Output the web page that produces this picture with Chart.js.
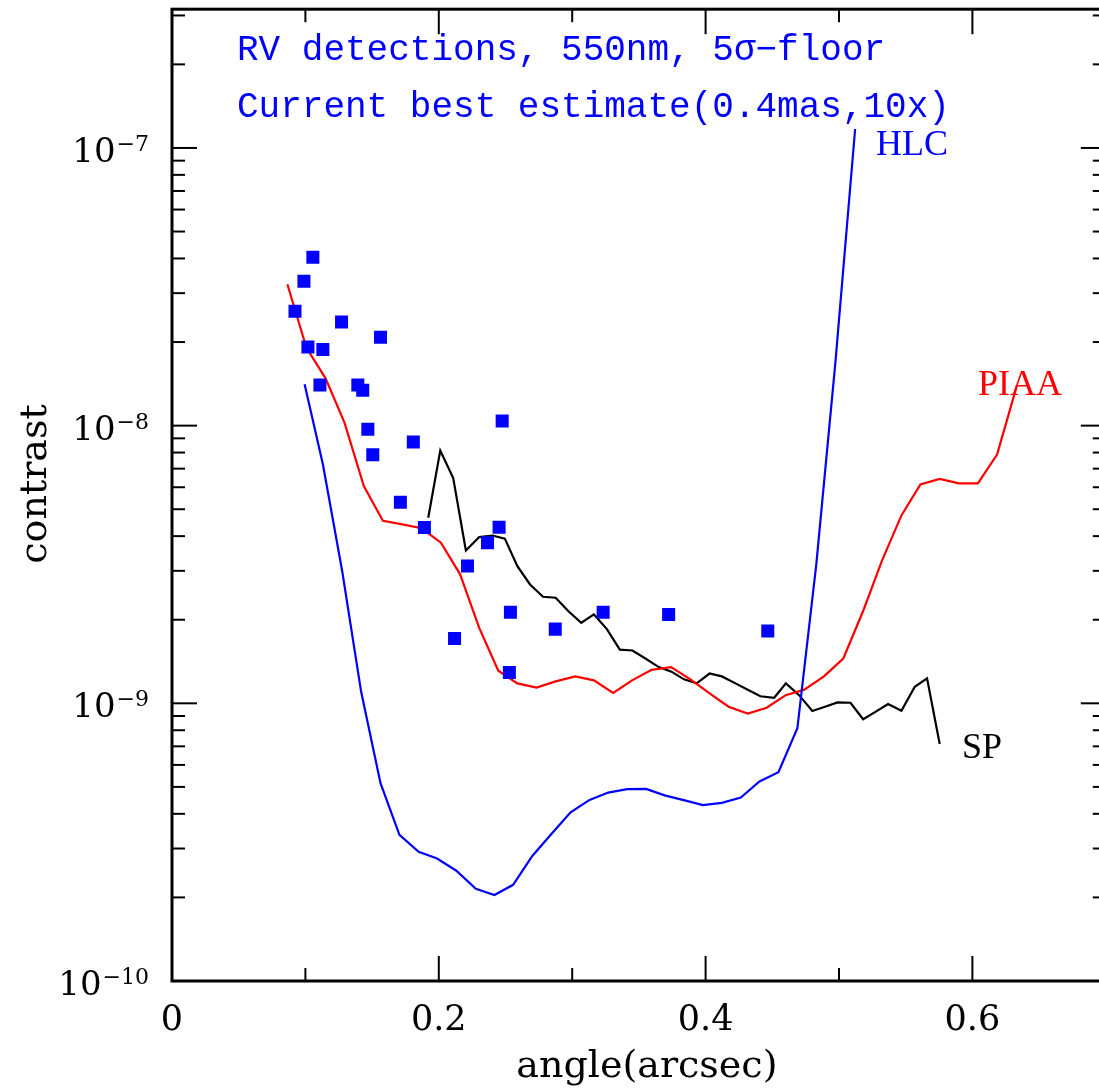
<!DOCTYPE html>
<html>
<head>
<meta charset="utf-8">
<script src="https://cdn.jsdelivr.net/npm/chart.js@4.4.1/dist/chart.umd.min.js"></script>
<style>
html,body{margin:0;padding:0;overflow:hidden;background:#fff;}
#wrap{width:1115px;height:1092px;position:relative;}
canvas{display:block;}
</style>
</head>
<body>
<div id="wrap"><canvas id="c" width="1115" height="1092"></canvas></div>
<script>
// ---- data (angle in arcsec, contrast) ----
const rvX = [0.0922,0.0989,0.1056,0.1019,0.1109,0.1131,0.1271,0.1393,0.1430,0.1468,0.1505,0.1563,0.1712,0.1809,0.1892,0.2118,0.2215,0.2365,0.2452,0.2475,0.2537,0.2529,0.2873,0.3232,0.3723,0.4466];
const rvY = [2.58e-8,3.31e-8,4.04e-8,1.92e-8,1.40e-8,1.88e-8,2.36e-8,1.40e-8,1.34e-8,9.70e-9,7.85e-9,2.08e-8,5.30e-9,8.73e-9,4.30e-9,1.71e-9,3.12e-9,3.79e-9,4.31e-9,1.04e-8,2.13e-9,1.29e-9,1.85e-9,2.13e-9,2.09e-9,1.82e-9];

const hlcX = [0.0994,0.1131,0.1276,0.1418,0.1563,0.1705,0.1849,0.1987,0.2129,0.2278,0.2417,0.2557,0.2701,0.2839,0.2988,0.3130,0.3270,0.3412,0.3554,0.3693,0.3836,0.3980,0.4122,0.4264,0.4404,0.4546,0.4688,0.4830,0.4972,0.5121];
const hlcY = [1.41e-8,7.26e-9,2.99e-9,1.10e-9,5.16e-10,3.36e-10,2.92e-10,2.76e-10,2.50e-10,2.15e-10,2.04e-10,2.22e-10,2.82e-10,3.36e-10,4.05e-10,4.49e-10,4.77e-10,4.91e-10,4.92e-10,4.66e-10,4.48e-10,4.30e-10,4.38e-10,4.58e-10,5.23e-10,5.65e-10,8.13e-10,3.17e-9,1.67e-8,1.17e-7];

const piaaX = [0.0865,0.1007,0.1151,0.1293,0.1438,0.1581,0.1727,0.1871,0.2016,0.2159,0.2303,0.2446,0.2589,0.2733,0.2876,0.3023,0.3163,0.3307,0.3449,0.3595,0.3741,0.3886,0.4030,0.4172,0.4316,0.4458,0.4600,0.4740,0.4887,0.5032,0.5181,0.5323,0.5468,0.5610,0.5755,0.5899,0.6041,0.6185,0.6333];
const piaaY = [3.23e-8,1.91e-8,1.48e-8,1.025e-8,6.06e-9,4.54e-9,4.41e-9,4.27e-9,3.79e-9,2.92e-9,1.87e-9,1.31e-9,1.18e-9,1.14e-9,1.20e-9,1.25e-9,1.21e-9,1.09e-9,1.21e-9,1.32e-9,1.35e-9,1.22e-9,1.086e-9,9.72e-10,9.18e-10,9.64e-10,1.07e-9,1.12e-9,1.25e-9,1.45e-9,2.15e-9,3.27e-9,4.75e-9,6.14e-9,6.43e-9,6.20e-9,6.20e-9,7.87e-9,1.39e-8];

const spX = [0.1921,0.2011,0.2108,0.2203,0.2303,0.2402,0.2495,0.2589,0.2684,0.2781,0.2876,0.2970,0.3068,0.3163,0.3260,0.3357,0.3452,0.3549,0.3649,0.3744,0.3838,0.3933,0.4030,0.4122,0.4224,0.4316,0.4411,0.4514,0.4602,0.4701,0.4800,0.4895,0.4989,0.5086,0.5181,0.5276,0.5368,0.5468,0.5568,0.5660,0.5755];
const spY = [4.66e-9,8.13e-9,6.47e-9,3.55e-9,3.97e-9,4.02e-9,3.92e-9,3.12e-9,2.68e-9,2.42e-9,2.40e-9,2.15e-9,1.95e-9,2.09e-9,1.85e-9,1.56e-9,1.55e-9,1.45e-9,1.35e-9,1.30e-9,1.22e-9,1.18e-9,1.28e-9,1.25e-9,1.18e-9,1.12e-9,1.06e-9,1.047e-9,1.18e-9,1.07e-9,9.38e-10,9.72e-10,1.008e-9,1.005e-9,8.76e-10,9.33e-10,9.94e-10,9.40e-10,1.147e-9,1.23e-9,7.14e-10];

// ---- axes / text ----
const xMajorTicks = [0, 0.2, 0.4, 0.6];
const xTickLabels = ['0', '0.2', '0.4', '0.6'];
const xMinorTicks = [0.1, 0.3, 0.5];
const yDecades = [-10, -9, -8, -7];
const yExpLabels = ['\u221210', '\u22129', '\u22128', '\u22127'];
const xTitle = 'angle(arcsec)';
const yTitle = 'contrast';
const noteLines = ['RV detections, 550nm, 5\u03c3\u2212floor', 'Current best estimate(0.4mas,10x)'];
const seriesLabels = [
  {text: 'HLC', color: '#0000ff'},
  {text: 'PIAA', color: '#ff0000'},
  {text: 'SP', color: '#000000'}
];

const pts = (xs, ys) => xs.map((x, i) => ({x: x, y: ys[i]}));

const overlay = {
  id: 'overlay',
  afterDraw(chart) {
    const ctx = chart.ctx;
    const xs = chart.scales.x, ys = chart.scales.y;
    const a = chart.chartArea;
    ctx.save();
    // frame
    ctx.strokeStyle = '#000';
    ctx.lineWidth = 3;
    ctx.strokeRect(a.left, a.top, a.right - a.left, a.bottom - a.top);
    // ticks
    ctx.lineWidth = 2;
    const tick = (x1, y1, x2, y2) => { ctx.beginPath(); ctx.moveTo(x1, y1); ctx.lineTo(x2, y2); ctx.stroke(); };
    xMajorTicks.forEach(v => { const p = xs.getPixelForValue(v); tick(p, a.bottom, p, a.bottom - 25); tick(p, a.top, p, a.top + 25); });
    xMinorTicks.forEach(v => { const p = xs.getPixelForValue(v); tick(p, a.bottom, p, a.bottom - 13); tick(p, a.top, p, a.top + 13); });
    yDecades.forEach(d => {
      const p = ys.getPixelForValue(Math.pow(10, d));
      tick(a.left, p, a.left + 25, p); tick(a.right, p, a.right - 25, p);
      for (let m = 2; m <= 9; m++) {
        const v = m * Math.pow(10, d);
        if (v > ys.max) break;
        const q = ys.getPixelForValue(v);
        tick(a.left, q, a.left + 13, q); tick(a.right, q, a.right - 13, q);
      }
    });
    // x tick labels
    ctx.fillStyle = '#000';
    ctx.font = '35px "DejaVu Serif"';
    ctx.textAlign = 'center';
    ctx.textBaseline = 'alphabetic';
    xMajorTicks.forEach((v, i) => ctx.fillText(xTickLabels[i], xs.getPixelForValue(v), 1030));
    // y tick labels 10^n
    yDecades.forEach((d, i) => {
      const p = ys.getPixelForValue(Math.pow(10, d));
      ctx.font = '22px "DejaVu Serif"';
      ctx.textAlign = 'right';
      ctx.textBaseline = 'alphabetic';
      const ew = ctx.measureText(yExpLabels[i]).width;
      ctx.fillText(yExpLabels[i], 149, p + 3);
      ctx.font = '34px "DejaVu Serif"';
      ctx.fillText('10', 149 - ew - 1, p + 14);
    });
    // axis titles
    ctx.font = '38px "DejaVu Serif"';
    ctx.textAlign = 'center';
    ctx.fillText(xTitle, (a.left + a.right) / 2 + 8, 1077);
    ctx.save();
    ctx.translate(46, 484);
    ctx.rotate(-Math.PI / 2);
    ctx.fillText(yTitle, 0, 0);
    ctx.restore();
    // notes
    ctx.fillStyle = '#0000ff';
    ctx.font = '36px "Liberation Mono"';
    ctx.textAlign = 'left';
    ctx.fillText(noteLines[0], 237, 60);
    ctx.fillText(noteLines[1], 237, 117);
    // series labels
    ctx.font = '36px "Liberation Serif"';
    const anchors = [[876, 155], [978, 395], [962, 758]];
    seriesLabels.forEach((s, i) => { ctx.fillStyle = s.color; ctx.fillText(s.text, anchors[i][0], anchors[i][1]); });
    ctx.restore();
  }
};

new Chart(document.getElementById('c'), {
  type: 'scatter',
  data: {
    datasets: [
      {label: 'RV', data: pts(rvX, rvY), pointStyle: 'rect', pointRadius: 9.2, pointHoverRadius: 9.2, pointBorderWidth: 0, backgroundColor: '#0000ff', borderColor: '#0000ff', showLine: false},
      {label: 'HLC', data: pts(hlcX, hlcY), showLine: true, borderColor: '#0000ff', borderWidth: 2.2, pointRadius: 0, fill: false, tension: 0},
      {label: 'PIAA', data: pts(piaaX, piaaY), showLine: true, borderColor: '#ff0000', borderWidth: 2.2, pointRadius: 0, fill: false, tension: 0},
      {label: 'SP', data: pts(spX, spY), showLine: true, borderColor: '#000000', borderWidth: 2.2, pointRadius: 0, fill: false, tension: 0}
    ]
  },
  options: {
    responsive: false,
    animation: false,
    devicePixelRatio: 1,
    layout: {padding: {left: 172, top: 7, right: 5, bottom: 111}},
    plugins: {legend: {display: false}, tooltip: {enabled: false}, title: {display: false}},
    scales: {
      x: {type: 'linear', min: 0, max: 0.7, display: false},
      y: {type: 'logarithmic', min: 1e-10, max: 3.16e-7, display: false}
    }
  },
  plugins: [overlay]
});
</script>
</body>
</html>
